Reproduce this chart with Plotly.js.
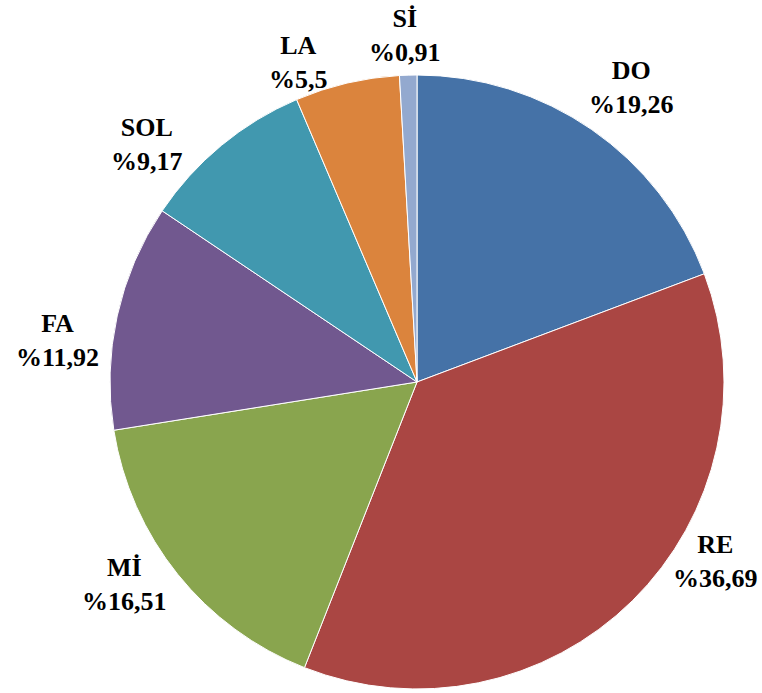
<!DOCTYPE html>
<html>
<head>
<meta charset="utf-8">
<script src="https://cdn.plot.ly/plotly-3.0.1.min.js"></script>
<style>html,body{margin:0;padding:0;background:#fff;}#chart{width:762px;height:693px;}</style>
</head>
<body>
<div id="chart"></div>
<script>
var labels = ["DO", "RE", "Mİ", "FA", "SOL", "LA", "Sİ"];
var values = [19.26, 36.69, 16.51, 11.92, 9.17, 5.5, 0.91];
var colors = ["#4572A7", "#AA4643", "#89A54E", "#71588F", "#4198AF", "#DB843D", "#93A9CF"];
var valueText = values.map(function (v) { return String(v).replace(".", ","); });

// label offsets (pixels) from the slice's outer edge midpoint
var labelShiftX = [40, 83, -53, -60, -74, -48, -3];
var labelShiftY = [42, 39, -10, -25, 1, 21, 40];

var W = 762, H = 693;
var dom = { x: [110 / W, 724 / W], y: [1 - 689 / H, 1 - 75 / H] };
var cx = (dom.x[0] + dom.x[1]) / 2, cy = (dom.y[0] + dom.y[1]) / 2;
var rPx = Math.min((dom.x[1] - dom.x[0]) * W, (dom.y[1] - dom.y[0]) * H) / 2;

var total = values.reduce(function (a, b) { return a + b; }, 0);
var cum = 0;
var annotations = values.map(function (v, i) {
  var mid = (cum + v / 2) / total * 2 * Math.PI;
  cum += v;
  return {
    xref: "paper", yref: "paper",
    x: cx + rPx * Math.sin(mid) / W,
    y: cy + rPx * Math.cos(mid) / H,
    xshift: labelShiftX[i], yshift: labelShiftY[i],
    xanchor: "center", yanchor: "middle", align: "center",
    showarrow: false,
    text: labels[i] + "<br>%" + valueText[i],
    font: { family: "Liberation Serif, Times New Roman, serif", size: 26, color: "#000000", weight: "bold" }
  };
});

var trace = {
  type: "pie",
  labels: labels,
  values: values,
  sort: false,
  direction: "clockwise",
  rotation: 0,
  marker: { colors: colors, line: { color: "#ffffff", width: 1 } },
  textinfo: "none",
  hoverinfo: "none",
  automargin: false,
  domain: dom
};
var layout = {
  width: W, height: H,
  margin: { l: 0, r: 0, t: 0, b: 0 },
  showlegend: false,
  paper_bgcolor: "#ffffff",
  annotations: annotations
};
Plotly.newPlot("chart", [trace], layout, { staticPlot: true });
</script>
</body>
</html>
